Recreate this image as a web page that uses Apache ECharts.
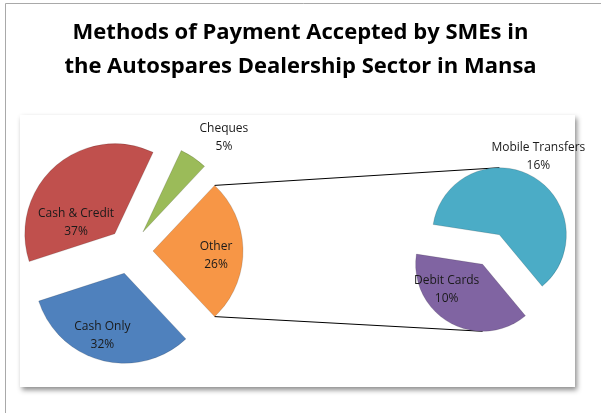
<!DOCTYPE html>
<html>
<head>
<meta charset="utf-8">
<title>Methods of Payment Accepted by SMEs</title>
<script src="https://cdn.jsdelivr.net/npm/echarts@6/dist/echarts.min.js"></script>
<style>
  html, body { margin: 0; padding: 0; background: #fff; }
  #main { width: 601px; height: 413px; }
</style>
</head>
<body>
<div id="main"></div>
<script>
// main pie, clockwise starting at the upper edge of "Other"
var mainNames = ['Other', 'Cash Only', 'Cash & Credit', 'Cheques'];
var mainValues = [26, 32, 37, 5];
// what "Other" is made of (second pie)
var subNames = ['Mobile Transfers', 'Debit Cards'];
var subValues = [16, 10];

var mainColors = ['#F79646', '#4F81BD', '#C0504D', '#9BBB59'];
var subColors = ['#4BACC6', '#8064A2'];
// nudges so the labels land where excel put them
var mainLabelOffset = [[15, 5], [-10, 16], [-7, 25], [54, -55]];
var subLabelOffset = [[21, -46], [-18, -6]];

var mainOffset = 23;   // explode distance
var subOffset = 17;

var chart = echarts.init(document.getElementById('main'));

function items(names, values, colors) {
  var out = [];
  for (var i = 0; i < names.length; i++) {
    out.push({
      name: names[i],
      value: values[i],
      selected: true,
      itemStyle: { color: colors[i] }
    });
  }
  return out;
}

function nudge(offsets) {
  return function (params) {
    var o = offsets[params.dataIndex];
    return { dx: o[0], dy: o[1] };
  };
}

var labelStyle = {
  show: true,
  position: 'inside',
  formatter: '{b}\n{c}%',
  color: '#1a1a1a',
  fontSize: 12,
  lineHeight: 18,
  fontFamily: 'Open Sans'
};

var option = {
  animation: false,
  title: {
    text: 'Methods of Payment Accepted by SMEs in\nthe Autospares Dealership Sector in Mansa',
    left: 'center',
    top: 11,
    textStyle: {
      fontFamily: 'Open Sans',
      fontWeight: 'bold',
      fontSize: 22,
      lineHeight: 34,
      color: '#000'
    }
  },
  graphic: [
    { // outer chart frame
      type: 'rect', z: -10, silent: true,
      shape: { x: 5.5, y: 3.5, width: 620, height: 430 },
      style: { fill: '#fff', stroke: '#a9a9a9', lineWidth: 1 }
    },
    { // plot area with drop shadow
      type: 'rect', z: -9, silent: true,
      shape: { x: 20, y: 115, width: 555, height: 272 },
      style: {
        fill: '#fff',
        shadowBlur: 5,
        shadowOffsetX: 2,
        shadowOffsetY: 3,
        shadowColor: 'rgba(0,0,0,0.45)'
      }
    }
  ],
  series: [
    {
      type: 'pie',
      center: [130, 251],
      radius: 90,
      startAngle: 46.8,
      clockwise: true,
      selectedMode: 'multiple',
      selectedOffset: mainOffset,
      avoidLabelOverlap: false,
      silent: true,
      emphasis: { disabled: true },
      itemStyle: { borderColor: 'rgba(0,0,0,0.18)', borderWidth: 0.8 },
      label: labelStyle,
      labelLine: { show: false },
      labelLayout: nudge(mainLabelOffset),
      data: items(mainNames, mainValues, mainColors)
    },
    {
      type: 'pie',
      center: [491, 249.5],
      radius: 67,
      startAngle: 171.25,
      clockwise: true,
      selectedMode: 'multiple',
      selectedOffset: subOffset,
      avoidLabelOverlap: false,
      silent: true,
      emphasis: { disabled: true },
      itemStyle: { borderColor: 'rgba(0,0,0,0.18)', borderWidth: 0.8 },
      label: labelStyle,
      labelLine: { show: false },
      labelLayout: nudge(subLabelOffset),
      data: items(subNames, subValues, subColors)
    }
  ]
};
chart.setOption(option);

// connector lines, taken from the pie layout echarts computed
function sliceLayout(seriesIndex, idx) {
  return chart.getModel().getSeriesByIndex(seriesIndex).getData().getItemLayout(idx);
}
function rimPoint(lay, angle, offset) {
  var mid = (lay.startAngle + lay.endAngle) / 2;
  return [
    lay.cx + Math.cos(mid) * offset + lay.r * Math.cos(angle),
    lay.cy + Math.sin(mid) * offset + lay.r * Math.sin(angle)
  ];
}

var other = sliceLayout(0, 0);
var a1 = other.startAngle, a2 = other.endAngle;
var topA = Math.sin(a1) < Math.sin(a2) ? a1 : a2;
var botA = topA === a1 ? a2 : a1;
var p1 = rimPoint(other, topA, mainOffset);
var p2 = rimPoint(other, botA, mainOffset);
var q1 = rimPoint(sliceLayout(1, 0), -Math.PI / 2, subOffset);
var q2 = rimPoint(sliceLayout(1, 1), Math.PI / 2, subOffset);

option.graphic.push(
  { type: 'line', z: 1, silent: true, shape: { x1: p1[0], y1: p1[1], x2: q1[0], y2: q1[1] }, style: { stroke: '#000', lineWidth: 1 } },
  { type: 'line', z: 1, silent: true, shape: { x1: p2[0], y1: p2[1], x2: q2[0], y2: q2[1] }, style: { stroke: '#000', lineWidth: 1 } }
);
chart.setOption({ graphic: option.graphic });
</script>
</body>
</html>
